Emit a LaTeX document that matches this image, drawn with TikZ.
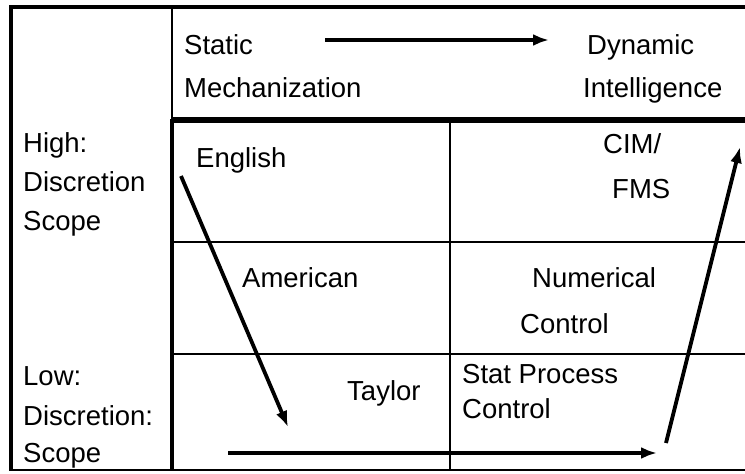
\documentclass[tikz,border=0pt]{standalone}
\usepackage{fontspec}
\setmainfont{Liberation Sans}
\usetikzlibrary{arrows.meta}

\begin{document}
\begin{tikzpicture}[
  x=1pt, y=-1pt,
  cell/.style={anchor=base west, inner sep=0pt, font=\fontsize{27.5}{33}\selectfont},
  thinrule/.style={line width=1.2pt},
  thickrule/.style={line width=3.4pt},
  trend/.style={-{Latex[length=16pt, width=12pt]}, line width=3.8pt},
]
\useasboundingbox (0,0) rectangle (745,474);

% Frame and grid
\draw[thickrule] (745,7) -- (11,7) -- (11,471);
\draw[thinrule] (11,470) -- (745,470);
\draw[thinrule] (172,7) -- (172,119);
\draw[thickrule] (172,470) -- (172,121) -- (745,121);
\draw[thinrule] (172,118) -- (745,118);
\draw[thinrule] (450,122) -- (450,470);
\draw[thinrule] (172,242) -- (745,242);
\draw[thinrule] (172,354) -- (745,354);

% Header row
\node[cell] (static) at (184,54) {Static};
\node[cell] (mech) at (184,97) {Mechanization};
\node[cell] (dynamic) at (587,54) {Dynamic};
\node[cell] (intel) at (583,97) {Intelligence};

% Left column
\node[cell] (high) at (23,152) {High:};
\node[cell] (hdisc) at (23,191) {Discretion};
\node[cell] (hscope) at (23,230) {Scope};
\node[cell] (low) at (23,385) {Low:};
\node[cell] (ldisc) at (23,425) {Discretion:};
\node[cell] (lscope) at (23,462) {Scope};

% Cells
\node[cell] (english) at (196,167) {English};
\node[cell] (cim) at (603,153) {CIM/};
\node[cell] (fms) at (612,198) {FMS};
\node[cell] (american) at (242,287) {American};
\node[cell] (numer) at (532,287) {Numerical};
\node[cell] (ncontrol) at (520,333) {Control};
\node[cell] (taylor) at (347,400) {Taylor};
\node[cell] (stat) at (462,383) {Stat Process};
\node[cell] (scontrol) at (462,418) {Control};

% Arrows
\coordinate (t0) at (325,40);
\coordinate (t1) at (549,40);
\coordinate (d0) at (181,176);
\coordinate (d1) at (288,427);
\coordinate (b0) at (228,453);
\coordinate (b1) at (657,453);
\coordinate (u0) at (666,443);
\coordinate (u1) at (740,147);
\draw[trend] (t0) -- (t1);
\draw[trend] (d0) -- (d1);
\draw[trend] (b0) -- (b1);
\draw[trend] (u0) -- (u1);

\end{tikzpicture}
\end{document}
